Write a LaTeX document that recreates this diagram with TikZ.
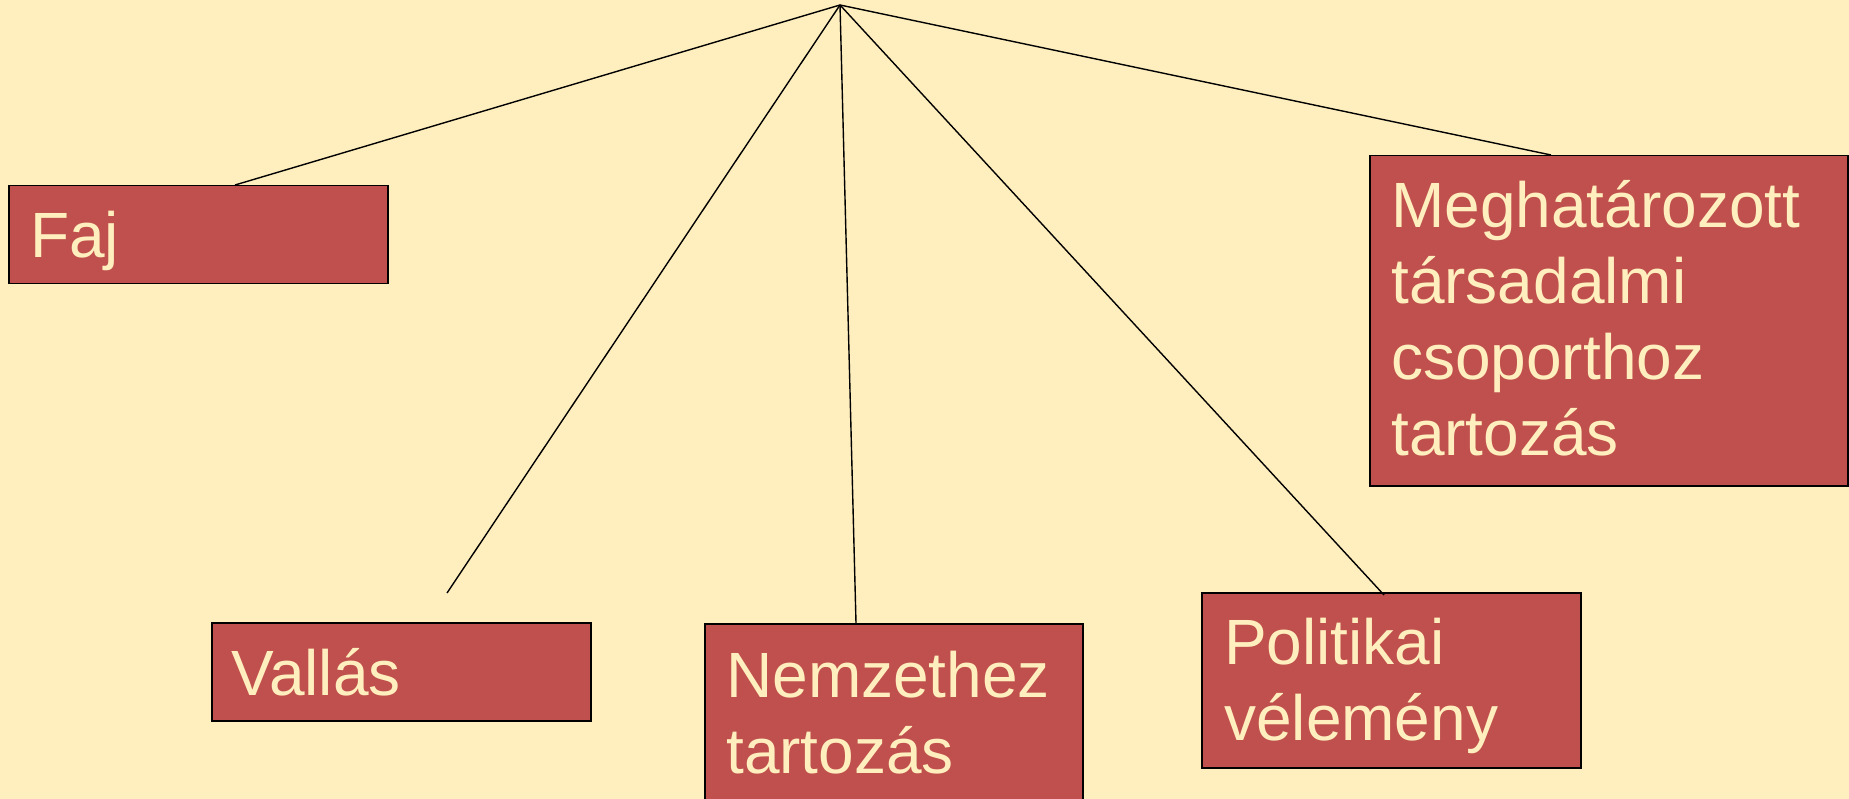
\documentclass[tikz,border=0pt]{standalone}
\usepackage{fontspec}
\setmainfont{Liberation Sans}
\definecolor{bgcream}{RGB}{255,239,191}
\definecolor{boxred}{RGB}{192,80,77}
\definecolor{txtcream}{RGB}{255,239,191}
\tikzset{
  catbox/.style={draw=black, line width=1.5pt, fill=boxred, anchor=north west, inner sep=0pt},
  cattext/.style={anchor=base west, inner sep=0pt, align=left, text=txtcream,
    font=\fontsize{64}{76}\selectfont},
  link/.style={draw=black, line width=1.4pt}
}
\begin{document}
\begin{tikzpicture}[x=1pt,y=-1pt]
\fill[bgcream] (0,0) rectangle (1849,799);
\useasboundingbox (0,0) rectangle (1849,799);
\coordinate (apex) at (840,5);
% boxes
\node[catbox, minimum width=379pt, minimum height=98pt] (faj) at (8,185) {};
\node[catbox, minimum width=379pt, minimum height=98pt] (vallas) at (211,622) {};
\node[catbox, minimum width=378pt, minimum height=200pt] (nemzet) at (704,623) {};
\node[catbox, minimum width=379pt, minimum height=175pt] (polit) at (1201,592) {};
\node[catbox, minimum width=478pt, minimum height=330pt] (megh) at (1369,155) {};
% texts (anchored at the baseline of their last line)
\node[cattext] (fajt) at (30,258) {Faj};
\node[cattext] (vallast) at (231,695) {Vallás};
\node[cattext] (nemzett) at (726,773) {Nemzethez\\tartozás};
\node[cattext] (politt) at (1224,740) {Politikai\\vélemény};
\node[cattext] (meght) at (1391,455) {Meghatározott\\társadalmi\\csoporthoz\\tartozás};
% connector ends
\coordinate (vallasend) at (447,593);
\coordinate (politend) at (1384,595);
\draw[link] (apex) -- (faj.north west -| 235,0);
\draw[link] (apex) -- (vallasend);
\draw[link] (apex) -- (nemzet.north west -| 856,0);
\draw[link] (apex) -- (politend);
\draw[link] (apex) -- (megh.north west -| 1551,0);
\end{tikzpicture}
\end{document}
